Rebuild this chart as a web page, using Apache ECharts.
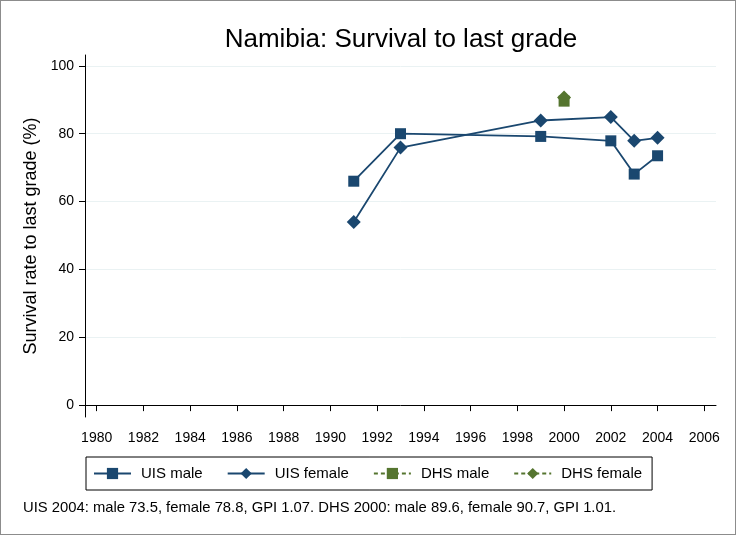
<!DOCTYPE html>
<html>
<head>
<meta charset="utf-8">
<script src="https://cdn.jsdelivr.net/npm/echarts@6/dist/echarts.min.js"></script>
<style>
  html, body { margin: 0; padding: 0; background: #fff; }
  #main { width: 736px; height: 535px; box-sizing: border-box; border: 1px solid #8c8c8c; }
</style>
</head>
<body>
<div id="main"></div>
<script>
// data
var uisYears = [1991, 1993, 1999, 2002, 2003, 2004];
var uisMale = [66, 80, 79.2, 77.9, 68.1, 73.5];
var uisFemale = [54, 75.9, 83.9, 84.9, 77.9, 78.8];
var dhsYears = [2000];
var dhsMale = [89.6];
var dhsFemale = [90.7];
var xTicks = [1980, 1982, 1984, 1986, 1988, 1990, 1992, 1994, 1996, 1998, 2000, 2002, 2004, 2006];
var yTicks = [0, 20, 40, 60, 80, 100];

function pairs(xs, ys) {
  return xs.map(function (x, i) { return [x, ys[i]]; });
}

var navy = '#1a476f';
var green = '#55752f';
var font = 'Liberation Sans, Arial, Helvetica, sans-serif';

var myChart = echarts.init(document.getElementById('main'));

var option = {
  animation: false,
  textStyle: { fontFamily: font },
  title: {
    text: 'Namibia: Survival to last grade',
    left: 395,
    textAlign: 'center',
    top: 21,
    textStyle: { fontFamily: font, fontSize: 26, fontWeight: 'normal', color: '#000' }
  },
  graphic: [
    {
      type: 'text',
      left: 22,
      top: 499,
      style: {
        text: 'UIS 2004: male 73.5, female 78.8, GPI 1.07. DHS 2000: male 89.6, female 90.7, GPI 1.01.',
        font: '14.8px ' + font,
        fill: '#000'
      }
    }
  ],
  legend: {
    left: 85,
    top: 456,
    width: 566,
    height: 15,
    padding: [9, 10, 9, 7],
    itemWidth: 37,
    itemHeight: 14,
    itemGap: 24,
    borderColor: '#000',
    borderWidth: 1,
    textStyle: { fontFamily: font, fontSize: 15, color: '#000', padding: [0, 0, 0, 5] },
    data: ['UIS male', 'UIS female', 'DHS male', 'DHS female']
  },
  grid: { left: 84, right: 19, top: 54, bottom: 117 },
  xAxis: {
    type: 'value',
    min: 1979.5,
    max: 2006.5,
    axisLine: { show: true, lineStyle: { color: '#000', width: 1 } },
    axisTick: { show: true, length: 6, customValues: xTicks, lineStyle: { color: '#000' } },
    axisLabel: {
      customValues: xTicks,
      formatter: function (v) { return String(v); },
      color: '#000', fontSize: 14, margin: 14, fontFamily: font
    },
    splitLine: { show: false }
  },
  yAxis: {
    type: 'value',
    min: -3.5,
    max: 103.2,
    name: 'Survival rate to last grade (%)',
    nameLocation: 'middle',
    nameGap: 40,
    nameTextStyle: { fontFamily: font, fontSize: 18, color: '#000' },
    axisLine: { show: true, lineStyle: { color: '#000', width: 1 } },
    axisTick: { show: true, length: 6, customValues: yTicks, lineStyle: { color: '#000' } },
    axisLabel: { customValues: yTicks, color: '#000', fontSize: 14, margin: 11, fontFamily: font },
    splitLine: { show: true, lineStyle: { color: '#eaf2f3', width: 1 } }
  },
  series: [
    {
      name: 'UIS male',
      type: 'line',
      data: pairs(uisYears, uisMale),
      symbol: 'rect',
      symbolSize: 11,
      color: navy,
      lineStyle: { color: navy, width: 1.8 },
      itemStyle: { color: navy }
    },
    {
      name: 'UIS female',
      type: 'line',
      data: pairs(uisYears, uisFemale),
      symbol: 'diamond',
      symbolSize: 14,
      color: navy,
      lineStyle: { color: navy, width: 1.8 },
      itemStyle: { color: navy }
    },
    {
      name: 'DHS male',
      type: 'line',
      data: pairs(dhsYears, dhsMale),
      symbol: 'rect',
      symbolSize: 11,
      color: green,
      lineStyle: { color: green, width: 1.2, type: [4, 3] },
      itemStyle: { color: green }
    },
    {
      name: 'DHS female',
      type: 'line',
      data: pairs(dhsYears, dhsFemale),
      symbol: 'diamond',
      symbolSize: 14,
      color: green,
      lineStyle: { color: green, width: 1.2, type: [4, 3] },
      itemStyle: { color: green }
    }
  ]
};

myChart.setOption(option);
</script>
</body>
</html>
